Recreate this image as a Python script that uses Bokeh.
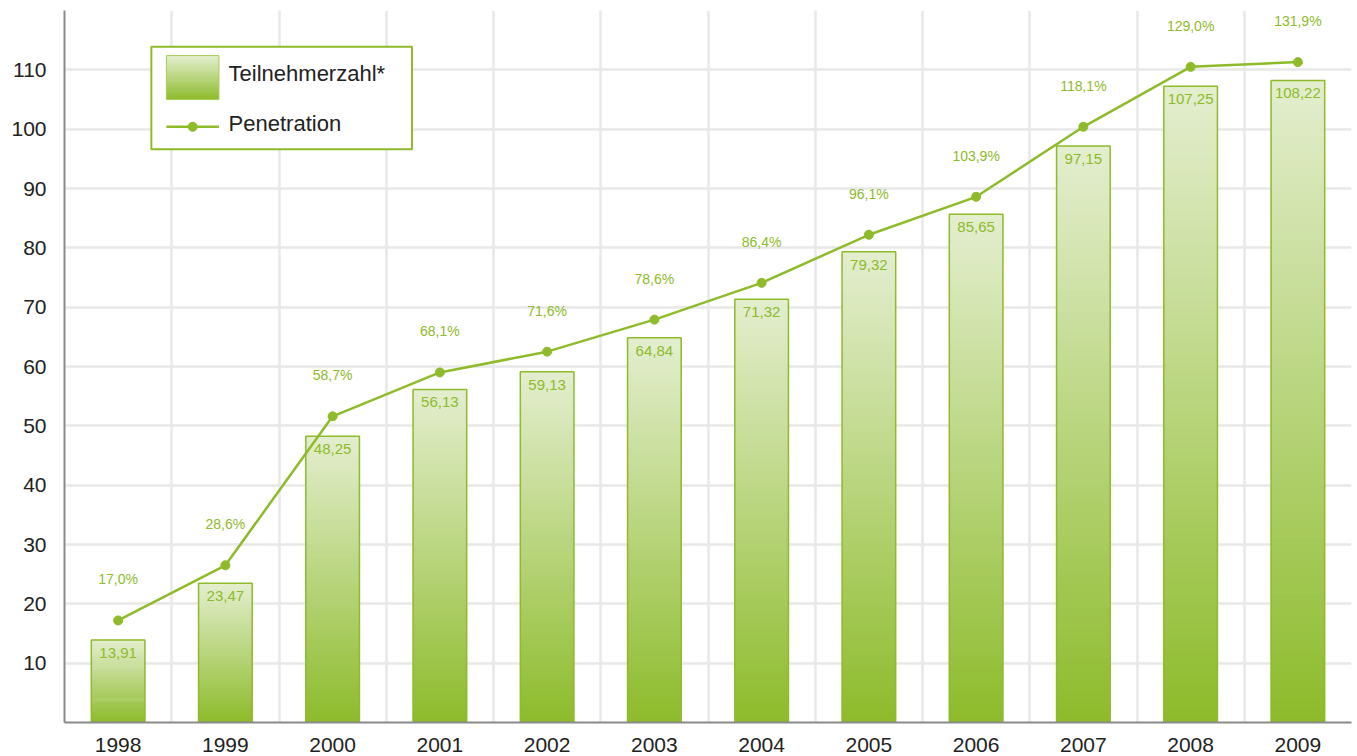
import numpy as np
from bokeh.plotting import figure
from bokeh.models import FixedTicker, ColumnDataSource, LabelSet, Label
from bokeh.core.properties import value
from bokeh.embed import file_html
from bokeh.resources import INLINE

# ---- data ----
years = ["1998", "1999", "2000", "2001", "2002", "2003",
         "2004", "2005", "2006", "2007", "2008", "2009"]
subscribers = [13.91, 23.47, 48.25, 56.13, 59.13, 64.84,
               71.32, 79.32, 85.65, 97.15, 107.25, 108.22]
penetration = [17.0, 28.6, 58.7, 68.1, 71.6, 78.6,
               86.4, 96.1, 103.9, 118.1, 129.0, 131.9]
# height at which the penetration line is drawn
penetration_level = [17.2, 26.5, 51.6, 59.0, 62.5, 67.9,
                     74.1, 82.2, 88.6, 100.4, 110.5, 111.3]
y_ticks = [10, 20, 30, 40, 50, 60, 70, 80, 90, 100, 110]

GREEN = "#8dbb2a"
DARK = np.array([0x8d, 0xbb, 0x2b])
LIGHT = np.array([0xe4, 0xee, 0xcf])
FONT = "Liberation Sans"


def mix(t):
    c = DARK * (1 - t) + LIGHT * t
    return "#%02x%02x%02x" % tuple(int(round(v)) for v in c)


xs = list(range(len(years)))

p = figure(width=1353, height=754, x_range=(-0.5, 11.5), y_range=(0, 120),
           output_backend="svg", toolbar_location=None,
           min_border_left=64, min_border_right=2, min_border_top=10,
           min_border_bottom=31)
p.outline_line_color = None
p.background_fill_color = "white"

# grids
p.xgrid.ticker = FixedTicker(ticks=[i + 0.5 for i in xs])
p.ygrid.ticker = FixedTicker(ticks=y_ticks + [120])
for g in (p.xgrid, p.ygrid):
    g.grid_line_color = "#e8e8e8"
    g.grid_line_width = 2.5

# axes
p.xaxis.ticker = FixedTicker(ticks=xs)
p.xaxis.major_label_overrides = {i: y for i, y in enumerate(years)}
p.yaxis.ticker = FixedTicker(ticks=y_ticks)
for ax in (p.xaxis, p.yaxis):
    ax.axis_line_color = "#8a8a8a"
    ax.axis_line_width = 2
    ax.major_tick_line_color = None
    ax.minor_tick_line_color = None
    ax.major_label_text_font = FONT
    ax.major_label_text_font_size = "21px"
    ax.major_label_text_color = "#222222"
p.xaxis.major_label_standoff = 9
p.yaxis.major_label_standoff = 12

# gradient bars (stacked slices, each slightly overlapping the next)
N = 80
bx, bb, bt, bc = [], [], [], []
for i, v in zip(xs, subscribers):
    for k in range(N):
        bx.append(i)
        bb.append(v * k / N)
        bt.append(v * min(k + 1.6, N) / N)
        bc.append(mix((k + 0.5) / N))
p.vbar(x=bx, bottom=bb, top=bt, width=0.5, fill_color=bc, line_color=None)
p.vbar(x=xs, top=subscribers, width=0.5, fill_color=None, line_color=GREEN,
       line_width=1.5)

# penetration line
p.line(xs, penetration_level, line_color=GREEN, line_width=2.5)
p.scatter(xs, penetration_level, size=9, fill_color=GREEN, line_color=GREEN)

# labels
src = ColumnDataSource(dict(
    x=xs, top=subscribers,
    blab=[("%.2f" % v).replace(".", ",") for v in subscribers],
    lvl=penetration_level,
    plab=[("%.1f%%" % v).replace(".", ",") for v in penetration],
))
p.add_layout(LabelSet(x="x", y="top", text="blab", source=src, y_offset=-13,
                      text_align="center", text_baseline="middle",
                      text_font=value(FONT), text_font_size=value("15px"),
                      text_color=GREEN))
p.add_layout(LabelSet(x="x", y="lvl", text="plab", source=src, y_offset=41,
                      text_align="center", text_baseline="middle",
                      text_font=value(FONT), text_font_size=value("14px"),
                      text_color=GREEN))

# legend (drawn by hand)
LX0, LX1, LY0, LY1 = 0.31, 2.74, 96.6, 113.9
p.quad(left=[LX0], right=[LX1], bottom=[LY0], top=[LY1],
       fill_color="white", line_color=GREEN, line_width=2)
SX0, SX1, SY0, SY1 = 0.45, 0.94, 105.0, 112.4
M = 40
p.quad(left=[SX0] * M, right=[SX1] * M,
       bottom=[SY0 + (SY1 - SY0) * k / M for k in range(M)],
       top=[SY0 + (SY1 - SY0) * min(k + 1.6, M) / M for k in range(M)],
       fill_color=[mix((k + 0.5) / M) for k in range(M)], line_color=None)
p.quad(left=[SX0], right=[SX1], bottom=[SY0], top=[SY1], fill_color=None,
       line_color="#a9cc5a", line_width=1)
p.line([SX0, SX1], [100.4, 100.4], line_color=GREEN, line_width=2.5)
p.scatter([(SX0 + SX1) / 2], [100.4], size=9, fill_color=GREEN,
          line_color=GREEN)
for txt, yy in (("Teilnehmerzahl*", 109.4), ("Penetration", 100.9)):
    p.add_layout(Label(x=1.03, y=yy, text=txt, text_baseline="middle",
                       text_font=FONT, text_font_size="22px",
                       text_color="#222222"))

open("out.html", "w").write(file_html(p, INLINE))
